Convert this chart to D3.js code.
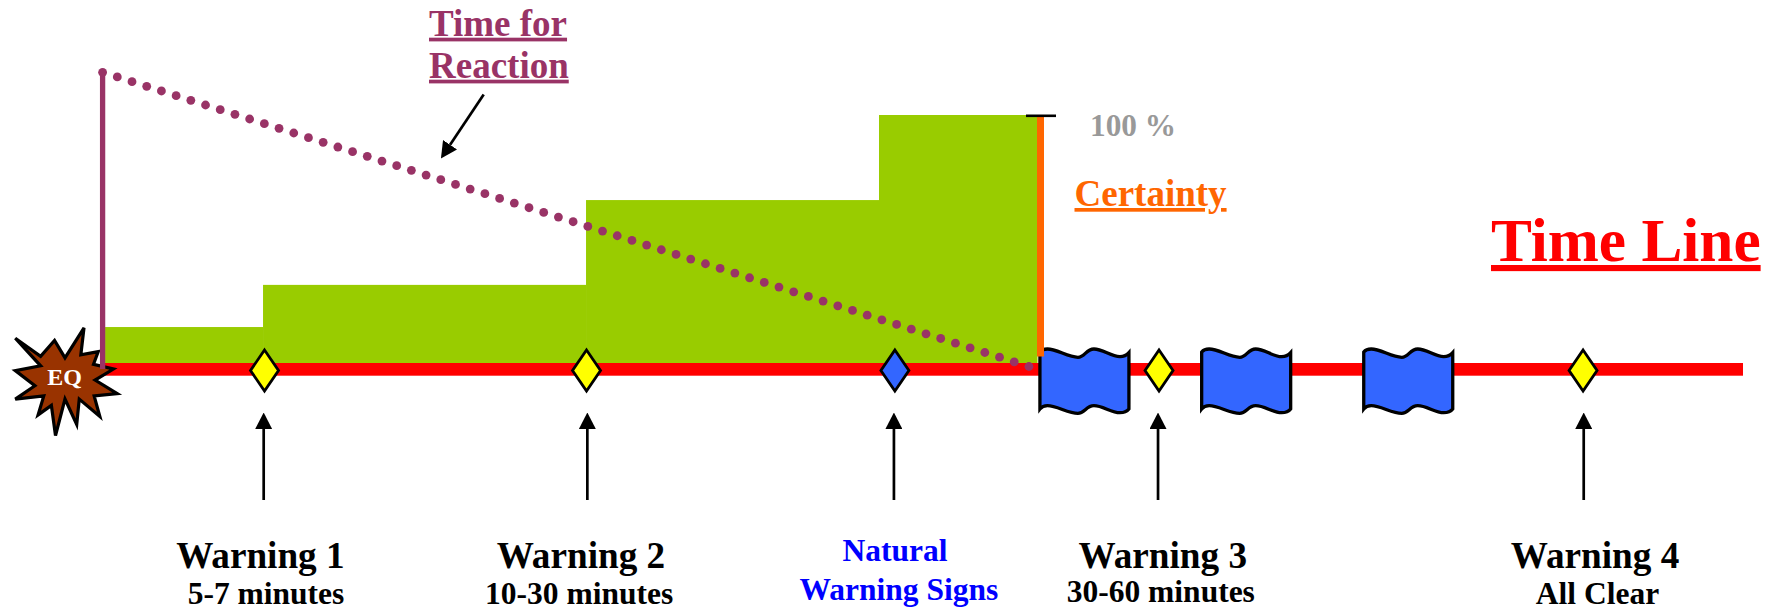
<!DOCTYPE html>
<html>
<head>
<meta charset="utf-8">
<title>Time Line</title>
<script src="https://cdn.jsdelivr.net/npm/d3@7"></script>
<style>
  html, body { margin: 0; padding: 0; background: #fff; }
  svg { display: block; }
  text { font-family: "Liberation Serif", serif; font-weight: bold; }
</style>
</head>
<body>
<div id="chart"></div>
<script>
// time runs along the line as % of its length, certainty in %
const certaintyTimes = [0.15, 9.78, 29.47, 47.33, 56.99];
const certaintyValues = [14.5, 31.5, 65.7, 100];

const reactionTimes = [0, 56.47];
const reactionValues = [100, 0];

const warningNames = ["Warning 1", "Warning 2", "Warning 3", "Warning 4"];
const warningNotes = ["5-7 minutes", "10-30 minutes", "30-60 minutes", "All Clear"];
const warningNameTimes = [9.62, 29.16, 64.63, 90.98];
const warningNoteTimes = [9.96, 29.05, 64.51, 91.13];

const diamondTimes = [9.87, 29.5, 48.3, 64.4, 90.25];
const diamondKinds = ["warning", "warning", "natural", "warning", "warning"];
const arrowTimes = [9.82, 29.55, 48.24, 64.34, 90.29];
const flagTimes = [57.14, 67.0, 76.88];

const naturalLines = ["Natural", "Warning Signs"];
const naturalLineTimes = [48.31, 48.54];

const width = 1777, height = 609;
const colors = {
    green: "#99CC00", red: "#FF0000", purple: "#993366", blue: "#3366FF",
    yellow: "#FFFF00", orange: "#FF6600", gray: "#999999", quake: "#993300", ink: "#0000FF"
};

const x = d3.scaleLinear().domain([0, 100]).range([102.6, 1743]);
const yCertainty = d3.scaleLinear().domain([0, 100]).range([363, 115]);
const yReaction = d3.scaleLinear().domain([0, 100]).range([366.5, 72.3]);

const svg = d3.select("#chart").append("svg")
    .attr("width", width)
    .attr("height", height)
    .attr("viewBox", `0 0 ${width} ${height}`);

const defs = svg.append("defs");
defs.append("marker")
    .attr("id", "head")
    .attr("markerUnits", "userSpaceOnUse")
    .attr("viewBox", "0 0 16.5 17")
    .attr("refX", 0).attr("refY", 8.5)
    .attr("markerWidth", 16.5).attr("markerHeight", 17)
    .attr("orient", "auto")
    .append("path").attr("d", "M0,0L16.5,8.5L0,17Z").attr("fill", "#000");

// certainty steps
const steps = certaintyValues.map((v, i) => ({ x0: certaintyTimes[i], x1: certaintyTimes[i + 1], v }));
svg.append("g").selectAll("rect")
    .data(steps)
    .join("rect")
    .attr("x", d => x(d.x0))
    .attr("y", d => yCertainty(d.v))
    .attr("width", d => x(d.x1) - x(d.x0))
    .attr("height", d => yCertainty(0) - yCertainty(d.v))
    .attr("fill", colors.green);

// the time line itself
svg.append("rect")
    .attr("x", x(0)).attr("y", 363)
    .attr("width", x(100) - x(0)).attr("height", 12.7)
    .attr("fill", colors.red);

// earthquake burst
const burst = [[38,108],[118,165],[162,115],[195,170],[255,75],[245,160],[300,150],[285,190],[348,205],[290,240],
    [360,283],[287,290],[305,355],[240,300],[232,380],[195,300],[165,415],[152,320],[110,350],[128,290],[38,300],
    [100,258],[38,210],[118,195]];
svg.append("polygon")
    .attr("points", burst.map(p => [(195 + (p[0] - 195) * 0.95) / 3, 300 + (245 + (p[1] - 245) * 0.95) / 3].join(",")).join(" "))
    .attr("fill", colors.quake)
    .attr("stroke", "#000")
    .attr("stroke-width", 3.2)
    .attr("stroke-linejoin", "miter");
svg.append("text")
    .attr("x", 64.5).attr("y", 385)
    .attr("text-anchor", "middle")
    .attr("font-size", 24)
    .attr("fill", "#fff")
    .text("EQ");

// warning diamonds
const diamondPath = "M0,-20.5L14,0L0,20.5L-14,0Z";
svg.append("g").selectAll("path")
    .data(diamondTimes)
    .join("path")
    .attr("d", diamondPath)
    .attr("transform", d => `translate(${x(d)},370.5)`)
    .attr("fill", (d, i) => diamondKinds[i] === "natural" ? colors.blue : colors.yellow)
    .attr("stroke", "#000")
    .attr("stroke-width", 2.8);

// wavy flags
const flagPath = "M0,3C2,0.5 5,0 7.5,0C17,0 28,8.3 38,8.3C45,8.3 46,0 54,0C63,0 71,7.7 80,7.7C84,7.7 87,6 89,3.7L89,60C87,62.5 84,63.7 80,63.7C71,63.7 63,56.7 54,56.7C46,56.7 45,64.3 38,64.3C28,64.3 17,56.7 7.5,56.7C5,56.7 2,57.5 0,60Z";
svg.append("g").selectAll("path")
    .data(flagTimes)
    .join("path")
    .attr("d", flagPath)
    .attr("transform", d => `translate(${x(d)},349)`)
    .attr("fill", colors.blue)
    .attr("stroke", "#000")
    .attr("stroke-width", 3.3);

// certainty scale
svg.append("line")
    .attr("x1", 1040.5).attr("x2", 1040.5)
    .attr("y1", yCertainty(100)).attr("y2", 356.6)
    .attr("stroke", colors.orange)
    .attr("stroke-width", 7);
svg.append("line")
    .attr("x1", 1026).attr("x2", 1056)
    .attr("y1", 115.8).attr("y2", 115.8)
    .attr("stroke", "#000")
    .attr("stroke-width", 2.6);

// time for reaction
svg.append("line")
    .attr("x1", x(0)).attr("x2", x(0))
    .attr("y1", yReaction(100)).attr("y2", 369)
    .attr("stroke", colors.purple)
    .attr("stroke-width", 5.3);
const reactionDots = d3.range(64).map(i => i / 63);
const tAt = d3.scaleLinear().domain([0, 1]).range(reactionTimes);
const vAt = d3.scaleLinear().domain([0, 1]).range(reactionValues);
svg.append("g").selectAll("circle")
    .data(reactionDots)
    .join("circle")
    .attr("cx", d => x(tAt(d)))
    .attr("cy", d => yReaction(vAt(d)))
    .attr("r", 4.4)
    .attr("fill", colors.purple);

// arrows up to the marks
svg.append("g").selectAll("line")
    .data(arrowTimes)
    .join("line")
    .attr("x1", d => x(d)).attr("x2", d => x(d))
    .attr("y1", 500).attr("y2", 429)
    .attr("stroke", "#000")
    .attr("stroke-width", 2.7)
    .attr("marker-end", "url(#head)");
svg.append("line")
    .attr("x1", 483.7).attr("y1", 94.4)
    .attr("x2", 450.1).attr("y2", 144.8)
    .attr("stroke", "#000")
    .attr("stroke-width", 2.7)
    .attr("marker-end", "url(#head)");

// labels
svg.append("g").selectAll("text")
    .data(warningNames)
    .join("text")
    .attr("x", (d, i) => x(warningNameTimes[i]))
    .attr("y", 568)
    .attr("text-anchor", "middle")
    .attr("font-size", 37.2)
    .text(d => d);
svg.append("g").selectAll("text")
    .data(warningNotes)
    .join("text")
    .attr("x", (d, i) => x(warningNoteTimes[i]))
    .attr("y", (d, i) => i === 2 ? 602 : 604)
    .attr("text-anchor", "middle")
    .attr("font-size", 31.5)
    .text(d => d);
svg.append("g").selectAll("text")
    .data(naturalLines)
    .join("text")
    .attr("x", (d, i) => x(naturalLineTimes[i]))
    .attr("y", (d, i) => i === 0 ? 560.6 : 599.5)
    .attr("text-anchor", "middle")
    .attr("font-size", 31.5)
    .attr("fill", colors.ink)
    .text(d => d);

function label(text, px, py, size, fill, underline) {
    svg.append("text")
        .attr("x", px).attr("y", py)
        .attr("font-size", size)
        .attr("fill", fill)
        .attr("text-decoration", underline ? "underline" : null)
        .text(text);
}
label("Time for", 429, 35.7, 37, colors.purple, true);
label("Reaction", 429, 77.7, 37, colors.purple, true);
label("100 %", 1090, 136, 31.3, colors.gray, false);
label("Certainty", 1074.5, 206, 37, colors.orange, true);
label("Time Line", 1491, 261, 61.3, colors.red, true);
</script>
</body>
</html>
